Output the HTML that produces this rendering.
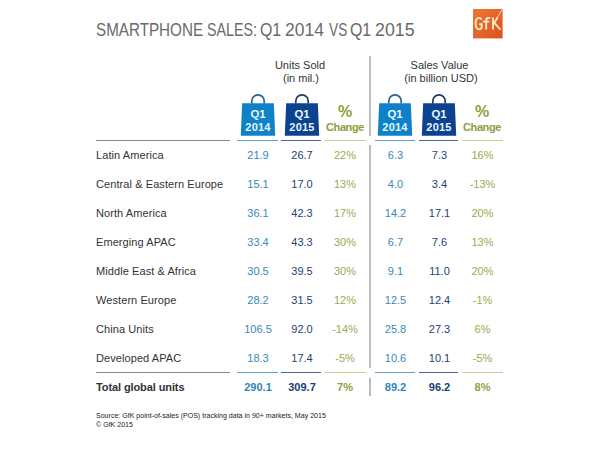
<!DOCTYPE html>
<html><head><meta charset="utf-8">
<style>
html,body{margin:0;padding:0;background:#fff;}
body{width:600px;height:450px;position:relative;overflow:hidden;font-family:"Liberation Sans",sans-serif;}
div{position:absolute;white-space:nowrap;}
.title{top:22px;font-size:17.5px;line-height:17.5px;color:#6a6a6a;transform-origin:0 0;}
.lbl{left:96px;font-size:11px;line-height:11px;color:#333;letter-spacing:0.08px;}
.tot{letter-spacing:-0.1px;}
.num{width:60px;text-align:center;font-size:11px;line-height:11px;}
.b{font-weight:bold;}
.c1{color:#3a88b8;}
.c2{color:#1f4173;}
.c3{color:#9aab50;}
.b.c1{color:#2e86b8;}
.b.c2{color:#1a3d70;}
.b.c3{color:#8fa043;}
.hl{height:1px;}
.vl{width:2px;left:369px;background:#bcbcbc;}
.hdr{width:120px;text-align:center;font-size:11px;line-height:11px;color:#333;}
.pct{width:60px;text-align:center;color:#8aa03c;font-weight:bold;}
.ft{left:96px;font-size:7.5px;line-height:9px;color:#222;transform-origin:0 0;transform:scaleX(0.94);}
</style></head><body>
<div class="title" style="left:96.13px;transform:scaleX(0.869)">SMARTPHONE</div>
<div class="title" style="left:207.19px;transform:scaleX(0.814)">SALES:</div>
<div class="title" style="left:260.09px;transform:scaleX(0.909)">Q1</div>
<div class="title" style="left:285.00px;transform:scaleX(1.000)">2014</div>
<div class="title" style="left:329.00px;transform:scaleX(0.783)">VS</div>
<div class="title" style="left:350.09px;transform:scaleX(0.909)">Q1</div>
<div class="title" style="left:374.98px;transform:scaleX(1.016)">2015</div>
<svg style="position:absolute;left:473.2px;top:9.4px" width="30" height="30" viewBox="0 0 30 30">
<defs><linearGradient id="lg" x1="0" y1="0" x2="1" y2="1"><stop offset="0" stop-color="#f07630"/><stop offset="1" stop-color="#dc5026"/></linearGradient></defs>
<rect x="0" y="0" width="29.6" height="29.4" fill="url(#lg)"/>
<g fill="none" stroke="#fdeec8" stroke-width="1.85" stroke-linecap="butt">
<path d="M8.6 10.6 C8.1 9.4 7.2 8.9 6 8.9 C3.8 8.9 2.6 10.9 2.6 14.6 C2.6 18.4 3.8 20.3 6 20.3 C7.5 20.3 8.7 19.5 8.7 17.8 V15.2 H6.2"/>
<path d="M17.2 9.4 C16.6 8.9 16 8.8 15.3 8.8 C14 8.8 13.2 9.6 13.2 11 V20.6 M10 12.6 H16.4"/>
<path d="M20 8.6 V20.6 M20.4 15.4 L24.6 8.2 M21.6 14 L27.4 20.6"/>
<path d="M24.4 8.6 L28.9 0.8" stroke-width="1.1" opacity="0.7"/>
</g>
</svg>

<div class="hdr" style="left:240px;top:60px;">Units Sold</div>
<div class="hdr" style="left:241px;top:73px;">(in mil.)</div>
<div class="hdr" style="left:379.5px;top:60px;">Sales Value</div>
<div class="hdr" style="left:381px;top:73px;">(in billion USD)</div>

<div class="hl" style="top:140px;left:96px;width:134px;background:#8a8a8a;"></div>
<div class="hl" style="top:140px;left:237px;width:40.5px;background:#62a0d0;"></div>
<div class="hl" style="top:140px;left:281px;width:40px;background:#46679a;"></div>
<div class="hl" style="top:140px;left:324.5px;width:41.5px;background:#c6cf8e;"></div>
<div class="hl" style="top:140px;left:374.5px;width:40.5px;background:#62a0d0;"></div>
<div class="hl" style="top:140px;left:418.75px;width:39px;background:#46679a;"></div>
<div class="hl" style="top:140px;left:462px;width:40.5px;background:#c6cf8e;"></div>
<div class="hl" style="top:372px;left:96px;width:134px;background:#8a8a8a;"></div>
<div class="hl" style="top:372px;left:237px;width:40.5px;background:#62a0d0;"></div>
<div class="hl" style="top:372px;left:281px;width:40px;background:#46679a;"></div>
<div class="hl" style="top:372px;left:324.5px;width:41.5px;background:#c6cf8e;"></div>
<div class="hl" style="top:372px;left:374.5px;width:40.5px;background:#62a0d0;"></div>
<div class="hl" style="top:372px;left:418.75px;width:39px;background:#46679a;"></div>
<div class="hl" style="top:372px;left:462px;width:40.5px;background:#c6cf8e;"></div>

<div class="vl" style="top:56px;height:79.5px;"></div>
<div class="vl" style="top:145px;height:222.5px;"></div>
<div class="vl" style="top:377.5px;height:18.5px;"></div>

<svg style="position:absolute;left:238px;top:90px" width="40" height="50" viewBox="0 0 40 50">
<path d="M13.8 13.5 V11.1 A6.2 6.2 0 0 1 26.2 11.1 V13.5" fill="none" stroke="#2f6190" stroke-width="1.7"/>
<path d="M4.15 13.2 H35.85 L37.2 45.8 H2.8 Z" fill="#0e82c8"/>
<text x="20" y="28.3" text-anchor="middle" font-family="Liberation Sans" font-weight="bold" font-size="11.4" fill="#e6f5ff">Q1</text>
<text x="20" y="40.6" text-anchor="middle" font-family="Liberation Sans" font-weight="bold" font-size="11" letter-spacing="0.2" fill="#e6f5ff">2014</text>
</svg><svg style="position:absolute;left:281.6px;top:90px" width="40" height="50" viewBox="0 0 40 50">
<path d="M13.8 13.5 V11.1 A6.2 6.2 0 0 1 26.2 11.1 V13.5" fill="none" stroke="#1f3a68" stroke-width="1.7"/>
<path d="M4.15 13.2 H35.85 L37.2 45.8 H2.8 Z" fill="#0c4290"/>
<text x="20" y="28.3" text-anchor="middle" font-family="Liberation Sans" font-weight="bold" font-size="11.4" fill="#e6f5ff">Q1</text>
<text x="20" y="40.6" text-anchor="middle" font-family="Liberation Sans" font-weight="bold" font-size="11" letter-spacing="0.2" fill="#e6f5ff">2015</text>
</svg><svg style="position:absolute;left:375px;top:90px" width="40" height="50" viewBox="0 0 40 50">
<path d="M13.8 13.5 V11.1 A6.2 6.2 0 0 1 26.2 11.1 V13.5" fill="none" stroke="#2f6190" stroke-width="1.7"/>
<path d="M4.15 13.2 H35.85 L37.2 45.8 H2.8 Z" fill="#0e82c8"/>
<text x="20" y="28.3" text-anchor="middle" font-family="Liberation Sans" font-weight="bold" font-size="11.4" fill="#e6f5ff">Q1</text>
<text x="20" y="40.6" text-anchor="middle" font-family="Liberation Sans" font-weight="bold" font-size="11" letter-spacing="0.2" fill="#e6f5ff">2014</text>
</svg><svg style="position:absolute;left:418.5px;top:90px" width="40" height="50" viewBox="0 0 40 50">
<path d="M13.8 13.5 V11.1 A6.2 6.2 0 0 1 26.2 11.1 V13.5" fill="none" stroke="#1f3a68" stroke-width="1.7"/>
<path d="M4.15 13.2 H35.85 L37.2 45.8 H2.8 Z" fill="#0c4290"/>
<text x="20" y="28.3" text-anchor="middle" font-family="Liberation Sans" font-weight="bold" font-size="11.4" fill="#e6f5ff">Q1</text>
<text x="20" y="40.6" text-anchor="middle" font-family="Liberation Sans" font-weight="bold" font-size="11" letter-spacing="0.2" fill="#e6f5ff">2015</text>
</svg><div class="pct" style="left:315px;top:104px;font-size:16px;line-height:16px;">%</div>
<div class="pct" style="left:315px;top:122px;font-size:11px;line-height:11px;letter-spacing:-0.4px;">Change</div>
<div class="pct" style="left:452px;top:104px;font-size:16px;line-height:16px;">%</div>
<div class="pct" style="left:452px;top:122px;font-size:11px;line-height:11px;letter-spacing:-0.4px;">Change</div>

<div class="lbl" style="top:149.7px">Latin America</div>
<div class="num c1" style="top:149.7px;left:228px">21.9</div>
<div class="num c2" style="top:149.7px;left:272px">26.7</div>
<div class="num c3" style="top:149.7px;left:315px">22%</div>
<div class="num c1" style="top:149.7px;left:365.5px">6.3</div>
<div class="num c2" style="top:149.7px;left:409.5px">7.3</div>
<div class="num c3" style="top:149.7px;left:452.5px">16%</div>
<div class="lbl" style="top:178.7px">Central &amp; Eastern Europe</div>
<div class="num c1" style="top:178.7px;left:228px">15.1</div>
<div class="num c2" style="top:178.7px;left:272px">17.0</div>
<div class="num c3" style="top:178.7px;left:315px">13%</div>
<div class="num c1" style="top:178.7px;left:365.5px">4.0</div>
<div class="num c2" style="top:178.7px;left:409.5px">3.4</div>
<div class="num c3" style="top:178.7px;left:452.5px">-13%</div>
<div class="lbl" style="top:207.7px">North America</div>
<div class="num c1" style="top:207.7px;left:228px">36.1</div>
<div class="num c2" style="top:207.7px;left:272px">42.3</div>
<div class="num c3" style="top:207.7px;left:315px">17%</div>
<div class="num c1" style="top:207.7px;left:365.5px">14.2</div>
<div class="num c2" style="top:207.7px;left:409.5px">17.1</div>
<div class="num c3" style="top:207.7px;left:452.5px">20%</div>
<div class="lbl" style="top:236.7px">Emerging APAC</div>
<div class="num c1" style="top:236.7px;left:228px">33.4</div>
<div class="num c2" style="top:236.7px;left:272px">43.3</div>
<div class="num c3" style="top:236.7px;left:315px">30%</div>
<div class="num c1" style="top:236.7px;left:365.5px">6.7</div>
<div class="num c2" style="top:236.7px;left:409.5px">7.6</div>
<div class="num c3" style="top:236.7px;left:452.5px">13%</div>
<div class="lbl" style="top:265.7px">Middle East &amp; Africa</div>
<div class="num c1" style="top:265.7px;left:228px">30.5</div>
<div class="num c2" style="top:265.7px;left:272px">39.5</div>
<div class="num c3" style="top:265.7px;left:315px">30%</div>
<div class="num c1" style="top:265.7px;left:365.5px">9.1</div>
<div class="num c2" style="top:265.7px;left:409.5px">11.0</div>
<div class="num c3" style="top:265.7px;left:452.5px">20%</div>
<div class="lbl" style="top:294.7px">Western Europe</div>
<div class="num c1" style="top:294.7px;left:228px">28.2</div>
<div class="num c2" style="top:294.7px;left:272px">31.5</div>
<div class="num c3" style="top:294.7px;left:315px">12%</div>
<div class="num c1" style="top:294.7px;left:365.5px">12.5</div>
<div class="num c2" style="top:294.7px;left:409.5px">12.4</div>
<div class="num c3" style="top:294.7px;left:452.5px">-1%</div>
<div class="lbl" style="top:323.7px">China Units</div>
<div class="num c1" style="top:323.7px;left:228px">106.5</div>
<div class="num c2" style="top:323.7px;left:272px">92.0</div>
<div class="num c3" style="top:323.7px;left:315px">-14%</div>
<div class="num c1" style="top:323.7px;left:365.5px">25.8</div>
<div class="num c2" style="top:323.7px;left:409.5px">27.3</div>
<div class="num c3" style="top:323.7px;left:452.5px">6%</div>
<div class="lbl" style="top:352.7px">Developed APAC</div>
<div class="num c1" style="top:352.7px;left:228px">18.3</div>
<div class="num c2" style="top:352.7px;left:272px">17.4</div>
<div class="num c3" style="top:352.7px;left:315px">-5%</div>
<div class="num c1" style="top:352.7px;left:365.5px">10.6</div>
<div class="num c2" style="top:352.7px;left:409.5px">10.1</div>
<div class="num c3" style="top:352.7px;left:452.5px">-5%</div>
<div class="lbl b tot" style="top:381.7px">Total global units</div>
<div class="num b c1" style="top:381.7px;left:228px">290.1</div>
<div class="num b c2" style="top:381.7px;left:272px">309.7</div>
<div class="num b c3" style="top:381.7px;left:315px">7%</div>
<div class="num b c1" style="top:381.7px;left:365.5px">89.2</div>
<div class="num b c2" style="top:381.7px;left:409.5px">96.2</div>
<div class="num b c3" style="top:381.7px;left:452.5px">8%</div>

<div class="ft" style="top:411px;">Source: GfK point-of-sales (POS) tracking data in 90+ markets, May 2015</div>
<div class="ft" style="top:420px;">&copy; GfK 2015</div>
</body></html>
